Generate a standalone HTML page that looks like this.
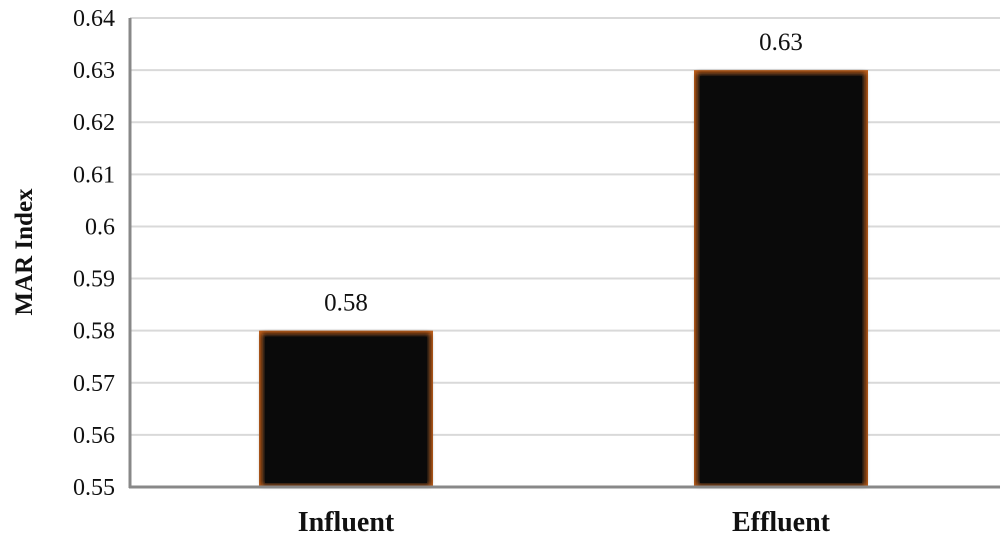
<!DOCTYPE html>
<html><head><meta charset="utf-8"><style>
body{margin:0;background:#fff;}
svg{display:block;font-family:"Liberation Serif",serif;}
</style></head><body>
<svg id="chart" width="1000" height="541">
<defs><filter id="blur" x="-10%" y="-10%" width="120%" height="120%"><feGaussianBlur stdDeviation="2.5"/></filter></defs>
<g id="grid"></g><g id="bars"></g><g id="axes"></g>
</svg>
<script>
const categories=["Influent","Effluent"];
const values=[0.58,0.63];
const ticks=[0.55,0.56,0.57,0.58,0.59,0.6,0.61,0.62,0.63,0.64];
const tickLabels=["0.55","0.56","0.57","0.58","0.59","0.6","0.61","0.62","0.63","0.64"];
const valueLabels=["0.58","0.63"];
const ns="http://www.w3.org/2000/svg";
const x0=130,x1=1000,yTop=18,yBot=487,vmin=0.55,vmax=0.64;
const y=v=>yBot-(v-vmin)/(vmax-vmin)*(yBot-yTop);
const band=(x1-x0)/categories.length;
const bw=174;
const cx=i=>x0+band*(i+0.5)-1.5;
function mk(t,a,p,txt){const e=document.createElementNS(ns,t);for(const k in a)e.setAttribute(k,a[k]);if(txt!=null)e.textContent=txt;p.appendChild(e);return e;}
const grid=document.getElementById('grid'),bars=document.getElementById('bars'),axes=document.getElementById('axes');
ticks.forEach((t,i)=>{
  const g=mk('line',{x1:x0,x2:x1,y1:y(t),y2:y(t),stroke:'#d9d9d9','stroke-width':2},grid);
  
  
  const l=mk('text',{x:115,y:y(t)+8,'text-anchor':'end','font-size':24,fill:'#111'},axes,tickLabels[i]);
  
  
});
categories.forEach((c,i)=>{
  const g=mk('g',{},bars);
  
  
  const xl=cx(i)-bw/2,yt=y(values[i]),h=yBot-yt;
  mk('rect',{x:xl,y:yt,width:bw,height:h,fill:'#c0601c'},g);
  mk('rect',{x:xl+3,y:yt+3,width:bw-6,height:h-5,fill:'#0a0a0a',filter:'url(#blur)'},g);
  mk('rect',{x:xl+6,y:yt+6,width:bw-12,height:h-10,fill:'#0a0a0a'},g);
  const vl=mk('text',{x:cx(i),y:yt-20,'text-anchor':'middle','font-size':25,fill:'#111'},bars,valueLabels[i]);
  
  
  const cl=mk('text',{x:cx(i),y:531,'text-anchor':'middle','font-size':28,'font-weight':'bold',fill:'#111'},axes,c);
  
  
});
const ya=mk('line',{x1:x0,x2:x0,y1:yTop,y2:yBot+1,stroke:'#888','stroke-width':3},axes);


const xa=mk('line',{x1:x0-1,x2:x1,y1:yBot,y2:yBot,stroke:'#888','stroke-width':3},axes);


const yt=mk('text',{x:0,y:0,transform:'translate(32,252) rotate(-90)','text-anchor':'middle','font-size':25,'font-weight':'bold',fill:'#111'},axes,'MAR Index');


</script>
</body></html>
